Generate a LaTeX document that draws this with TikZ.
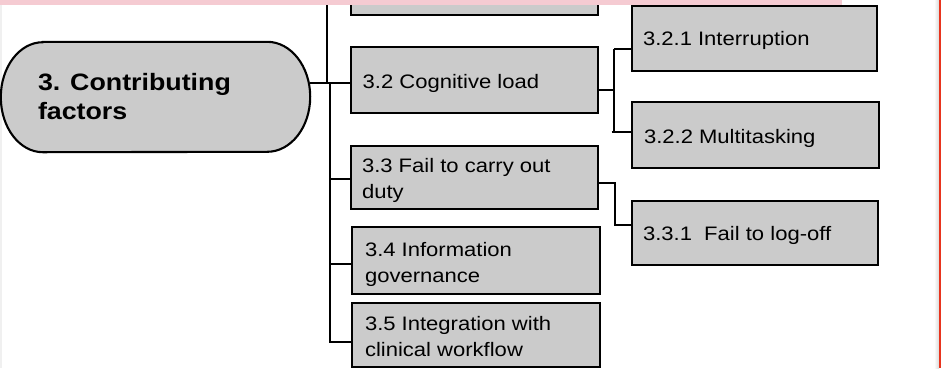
\documentclass[tikz,border=0pt]{standalone}
\usepackage{fontspec}
\setmainfont{Liberation Sans}[FakeStretch=1.13]
\usetikzlibrary{calc}

\definecolor{boxgray}{RGB}{203,203,203}
\definecolor{bandpink}{RGB}{245,203,210}
\definecolor{edgered}{RGB}{232,52,30}

% two lines of text, baseline of the node = baseline of the first line
\newcommand{\twoline}[3]{\vtop{\baselineskip=#3pt\relax\hbox{#1}\hbox{#2}}}

\begin{document}
\begin{tikzpicture}[x=1pt,y=-1pt,
  box/.style={draw=black, fill=boxgray, line width=2.1pt, rectangle,
              inner sep=0pt, outer sep=0pt},
  lbl/.style={inner sep=0pt, outer sep=0pt, anchor=base west,
              font=\fontsize{19.5}{26}\selectfont},
  headlbl/.style={inner sep=0pt, outer sep=0pt, anchor=base west,
              font=\fontsize{23.7}{28.3}\selectfont\bfseries},
  conn/.style={draw=black, line width=2pt, line join=miter}]

\useasboundingbox (0,0) rectangle (941,368);
\clip (0,0) rectangle (941,368);
\fill[white] (0,0) rectangle (941,368);

% page edges
\fill[gray!12] (0,0) rectangle (1.5,368);
\shade[left color=white, right color=gray!30] (934,0) rectangle (939.2,368);
\draw[edgered, line width=1.4pt] (940,0) -- (940,368);

% root: rounded capsule
\node[minimum width=309pt, minimum height=110pt, inner sep=0pt] (main) at (155.5,97) {};
\draw[fill=boxgray, line width=2.1pt]
  ([xshift=42pt]main.north west) -- ([xshift=-43pt]main.north east)
  arc[start angle=90, end angle=-90, x radius=43pt, y radius=55pt]
  -- ([xshift=42pt]main.south west)
  arc[start angle=270, end angle=90, x radius=42pt, y radius=55pt] -- cycle;
\node[headlbl] (mainlbl) at (38,90.7) {\twoline{3. Contributing}{factors}{28.3}};

% second level
\node[box, minimum width=247pt, minimum height=55pt] (b31) at (474.5,-12.5) {};
\node[box, minimum width=247pt, minimum height=66pt] (b32) at (474.5,80) {};
\node[box, minimum width=247pt, minimum height=63pt] (b33) at (474.5,177.5) {};
\node[box, minimum width=248pt, minimum height=67pt] (b34) at (476,260.5) {};
\node[box, minimum width=248pt, minimum height=64pt] (b35) at (476,335) {};

\node[lbl] (t32) at (362.7,88.3) {3.2 Cognitive load};
\node[lbl] (t33) at (362,172.3) {\twoline{3.3 Fail to carry out}{duty}{26}};
\node[lbl] (t34) at (365,256) {\twoline{3.4 Information}{governance}{26}};
\node[lbl] (t35) at (365,330) {\twoline{3.5 Integration with}{clinical workflow}{26}};

% third level
\node[box, minimum width=245pt, minimum height=65pt] (b321) at (754.5,38.5) {};
\node[box, minimum width=247pt, minimum height=66pt] (b322) at (755.5,135) {};
\node[box, minimum width=246pt, minimum height=64pt] (b331) at (755,233) {};

\node[lbl] (t321) at (643,45) {3.2.1 Interruption};
\node[lbl] (t322) at (644,143.3) {3.2.2 Multitasking};
\node[lbl] (t331) at (643,240) {3.3.1\ \ Fail to log-off};

% trunk junctions
\coordinate (j0) at (327,83);
\coordinate (j1) at (330,83);
\coordinate (j33) at (330,179);
\coordinate (j34) at (330,264);
\coordinate (j35) at (330,342);

\draw[conn] (main.east |- j0) -- (b32.west |- j0);
\draw[conn] (b31.west) -| (j0);
\draw[conn] (j1) -- (j35) -- (b35.west |- j35);
\draw[conn] (j33) -- (b33.west |- j33);
\draw[conn] (j34) -- (b34.west |- j34);

% branches of 3.2
\coordinate (k32) at (614,90);
\coordinate (k321) at (614,49);
\coordinate (k322) at (614,132);
\draw[conn] (b32.east |- k32) -- (k32);
\draw[conn] (k321) -- (k322);
\draw[conn] (k321) -- (b321.west |- k321);
\draw[conn] ([xshift=-2.5pt]k322) -- (b322.west |- k322);

% branch of 3.3
\coordinate (k33) at (615,183);
\coordinate (k331) at (615,225);
\draw[conn] (b33.east |- k33) -- (k33) -- (k331) -- (b331.west |- k331);

% top band
\fill[bandpink] (0,0) rectangle (842,5);
\end{tikzpicture}
\end{document}
